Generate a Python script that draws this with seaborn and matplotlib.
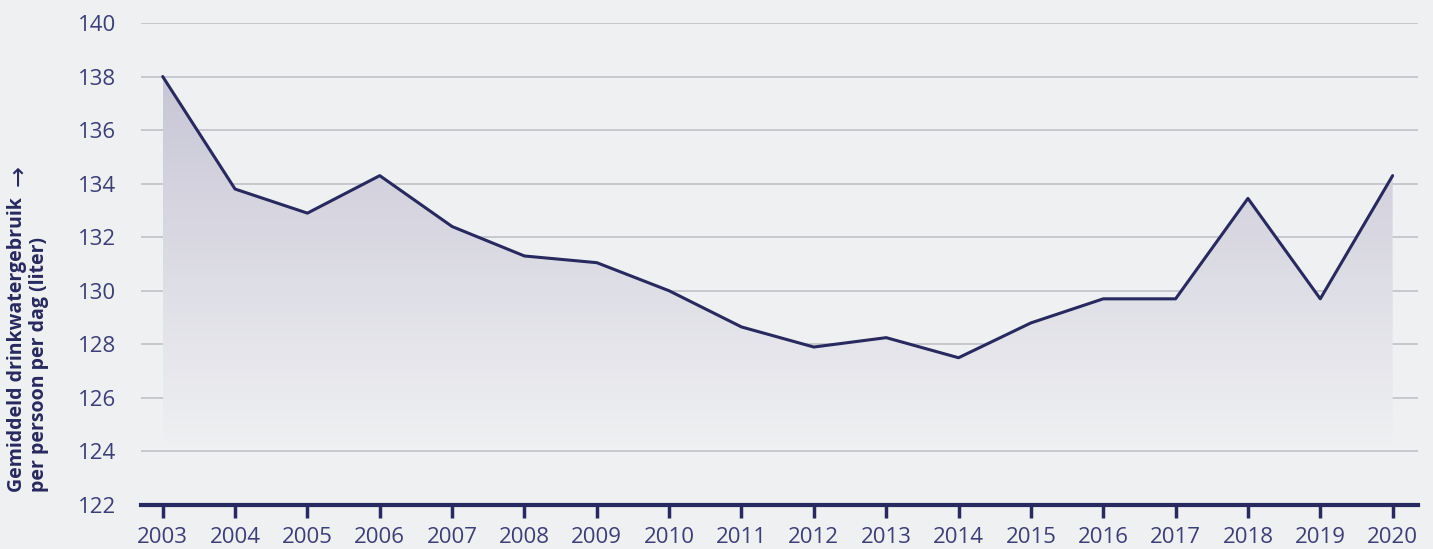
import numpy as np
import pandas as pd
import seaborn as sns
import matplotlib.pyplot as plt
from matplotlib.colors import LinearSegmentedColormap

# data
years = [2003, 2004, 2005, 2006, 2007, 2008, 2009, 2010, 2011,
         2012, 2013, 2014, 2015, 2016, 2017, 2018, 2019, 2020]
liters = [138.0, 133.8, 132.9, 134.3, 132.4, 131.3, 131.05, 130.0, 128.65,
          127.9, 128.25, 127.5, 128.8, 129.7, 129.7, 133.45, 129.7, 134.3]
y_ticks = [122, 124, 126, 128, 130, 132, 134, 136, 138, 140]

df = pd.DataFrame({"jaar": years, "liter": liters})

navy = "#27295f"
text_col = "#3c3e78"
bg = "#eff0f2"

sns.set_style("white")
plt.rcParams["font.family"] = ["Open Sans", "DejaVu Sans"]

fig = plt.figure(figsize=(14.33, 5.49), dpi=100, facecolor=bg)
ax = fig.add_axes([0.0984, 0.0801, 0.8911, 0.878])
ax.set_facecolor(bg)

# gradient fill under the line
fill = ax.fill_between(df["jaar"], df["liter"], 122, color="none", lw=0)
cmap = LinearSegmentedColormap.from_list("fade", [bg, "#c8c6d6"])
grad = np.linspace(0, 1, 256).reshape(-1, 1)
img = ax.imshow(grad, cmap=cmap, aspect="auto", origin="lower",
                extent=[2003, 2020, 124.2, 138.0], zorder=1)
img.set_clip_path(fill.get_paths()[0], transform=ax.transData)

sns.lineplot(data=df, x="jaar", y="liter", color=navy, lw=2.2, ax=ax, zorder=3)

ax.set_xlim(2002.7, 2020.35)
ax.set_ylim(122, 140)
ax.set_xticks(years)
ax.set_yticks(y_ticks)
ax.grid(axis="y", color="#bdbdc4", lw=1.1)
ax.set_axisbelow(True)

for s in ["top", "right", "left"]:
    ax.spines[s].set_visible(False)
ax.spines["bottom"].set_color(navy)
ax.spines["bottom"].set_linewidth(3)
ax.spines["bottom"].set_zorder(4)

ax.tick_params(axis="x", bottom=True, direction="out", length=9, width=2.5,
               color=navy, labelsize=16, labelcolor=text_col, pad=7)
ax.tick_params(axis="y", left=False, length=0, labelsize=16,
               labelcolor=text_col, pad=18)

ax.set_xlabel("")
ax.set_ylabel("")
fig.text(0.005, 1 - 492 / 549,
         "Gemiddeld drinkwatergebruik\nper persoon per dag (liter)",
         rotation=90, ha="left", va="bottom", multialignment="left",
         fontsize=14, fontweight="bold", color=navy, linespacing=1.15)
# arrow next to the first line of the axis title
fig.text(0.0125, 1 - 186 / 549, "→", rotation=90, ha="center", va="bottom",
         fontsize=18, color=navy, family=["DejaVu Sans"])

fig.savefig("out.png", dpi=100, facecolor=bg)
